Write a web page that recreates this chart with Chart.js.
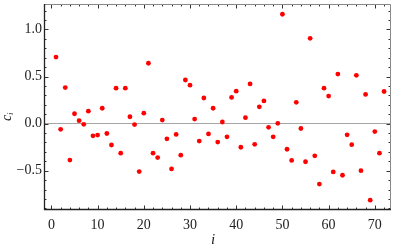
<!DOCTYPE html>
<html>
<head>
<meta charset="utf-8">
<script src="https://cdn.jsdelivr.net/npm/chart.js@4.4.0/dist/chart.umd.min.js"></script>
<style>
  html, body { margin: 0; padding: 0; background: #fff; }
  #wrap { width: 395px; height: 247px; }
</style>
</head>
<body>
<div id="wrap"><canvas id="graph1"></canvas></div>
<script>
// values, index i = 1..72
const indexValues = [];
for (let i = 1; i <= 72; i++) indexValues.push(i);
const cValues = [
  0.707, -0.06, 0.383, -0.387, 0.105, 0.031, -0.007, 0.132, -0.13, -0.122,
  0.163, -0.105, -0.227, 0.376, -0.314, 0.376, 0.073, -0.01, -0.509, 0.111,
  0.641, -0.314, -0.36, 0.038, -0.161, -0.481, -0.115, -0.335, 0.463, 0.408,
  0.048, -0.185, 0.272, -0.109, 0.163, -0.196, 0.017, -0.14, 0.278, 0.345,
  -0.251, 0.063, 0.422, -0.22, 0.178, 0.241, -0.039, -0.14, 0.003, 1.161,
  -0.272, -0.391, 0.226, -0.052, -0.405, 0.906, -0.342, -0.642, 0.376, 0.293,
  -0.513, 0.526, -0.548, -0.119, -0.224, 0.513, -0.499, 0.310, -0.813, -0.084,
  -0.314, 0.341
];
const xTicks = [0, 10, 20, 30, 40, 50, 60, 70];
const yTicks = [-0.5, 0, 0.5, 1.0];

var points = indexValues.map((x, k) => ({ x: x, y: cValues[k] }));

// frame with inward ticks (major + minor) on all four sides, plus axis labels
const framePlugin = {
  id: 'frame',
  afterDraw(chart) {
    const c = chart.ctx, a = chart.chartArea;
    const xs = chart.scales.x, ys = chart.scales.y;
    c.save();
    c.lineWidth = 1;
    // minor + major ticks
    c.strokeStyle = '#333';
    c.beginPath();
    for (let v = -2; v <= 74; v += 2) {
      const px = Math.round(xs.getPixelForValue(v)) + 0.5;
      if (px < a.left || px > a.right) continue;
      const len = v % 10 === 0 ? 4.5 : 2.5;
      c.moveTo(px, a.bottom); c.lineTo(px, a.bottom - len);
      c.moveTo(px, a.top); c.lineTo(px, a.top + len);
    }
    for (let k = -9; k <= 12; k++) {
      const v = k / 10;
      const py = Math.round(ys.getPixelForValue(v)) + 0.5;
      if (py < a.top || py > a.bottom) continue;
      const len = k % 5 === 0 ? 4.5 : 2.5;
      c.moveTo(a.left, py); c.lineTo(a.left + len, py);
      c.moveTo(a.right, py); c.lineTo(a.right - len, py);
    }
    c.stroke();
    // frame
    c.strokeStyle = '#888';
    c.beginPath();
    c.moveTo(Math.round(a.left) + 0.5, Math.round(a.top) + 0.5);
    c.lineTo(Math.round(a.right) - 0.5, Math.round(a.top) + 0.5);
    c.lineTo(Math.round(a.right) - 0.5, Math.round(a.bottom) - 0.5);
    c.stroke();
    c.strokeStyle = '#222';
    c.lineWidth = 1.3;
    c.beginPath();
    c.moveTo(Math.round(a.left) + 0.5, Math.round(a.top));
    c.lineTo(Math.round(a.left) + 0.5, Math.round(a.bottom) - 0.5);
    c.lineTo(Math.round(a.right), Math.round(a.bottom) - 0.5);
    c.stroke();
    // axis labels
    c.fillStyle = '#222';
    c.font = 'italic 15px "Liberation Serif"';
    c.textAlign = 'center';
    c.textBaseline = 'alphabetic';
    c.fillText('i', 213, 244);
    c.translate(10.5, 121);
    c.rotate(-Math.PI / 2);
    c.textAlign = 'left';
    c.font = 'italic 14px "Liberation Serif"';
    c.fillText('c', 0, 0);
    c.font = 'italic 9px "Liberation Serif"';
    c.fillText('i', 6, 2.5);
    c.restore();
  }
};

var ctx = document.getElementById('graph1').getContext('2d');
var myChart = new Chart(ctx, {
    type: 'scatter',
    data: {
        datasets: [{
            label: 'c',
            data: points,
            backgroundColor: '#ff0000',
            borderWidth: 0,
            pointRadius: 2.4
        }]
    },
    options: {
        responsive: true,
        maintainAspectRatio: false,
        animation: false,
        layout: { padding: { top: 1, right: 1, left: 0, bottom: 0 } },
        plugins: {
            legend: { display: false },
            tooltip: { enabled: false }
        },
        scales: {
            x: {
                type: 'linear',
                min: -1.6,
                max: 73.5,
                afterBuildTicks: s => { s.ticks = xTicks.map(v => ({ value: v })); },
                afterFit: s => { s.height = 37; s.paddingLeft = 0; s.paddingRight = 0; },
                border: { display: false },
                grid: { display: false, drawTicks: false },
                ticks: {
                    padding: 7,
                    maxRotation: 0,
                    autoSkip: false,
                    color: '#222',
                    font: { family: 'Liberation Serif', size: 14 }
                }
            },
            y: {
                type: 'linear',
                min: -0.917,
                max: 1.27,
                afterBuildTicks: s => { s.ticks = yTicks.map(v => ({ value: v })); },
                afterFit: s => { s.width = 44; s.paddingTop = 0; s.paddingBottom = 0; },
                border: { display: false },
                grid: {
                    drawTicks: false,
                    color: c => c.tick && c.tick.value === 0 ? '#a6a6a6' : 'rgba(0,0,0,0)',
                    lineWidth: 1
                },
                ticks: {
                    padding: 2,
                    autoSkip: false,
                    color: '#222',
                    font: { family: 'Liberation Serif', size: 14 },
                    callback: v => (v < 0 ? '\u2212' : '') + Math.abs(v).toFixed(1)
                }
            }
        }
    },
    plugins: [framePlugin]
});
</script>
</body>
</html>
